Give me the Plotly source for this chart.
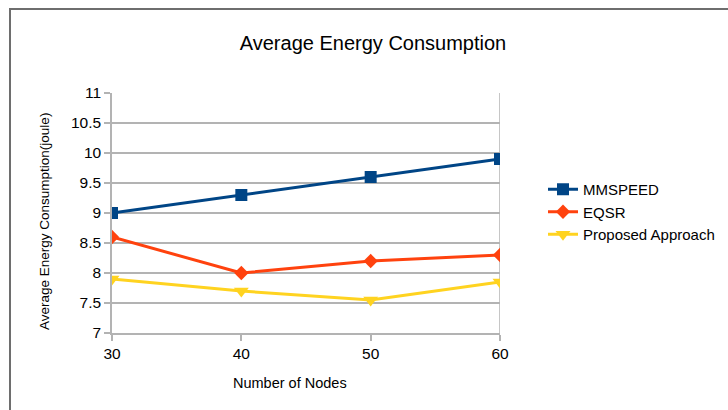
import plotly.graph_objects as go

# Number of nodes on the x axis
nodes = [30, 40, 50, 60]

# Average energy consumption (joule) per protocol
mmspeed = [9.0, 9.3, 9.6, 9.9]
eqsr = [8.6, 8.0, 8.2, 8.3]
proposed = [7.9, 7.7, 7.55, 7.85]

y_ticks = [7, 7.5, 8, 8.5, 9, 9.5, 10, 10.5, 11]
y_tick_text = ["7", "7.5", "8", "8.5", "9", "9.5", "10", "10.5", "11"]

FONT = "Liberation Sans, Arial, sans-serif"
GRID = "#b3b3b3"

# plot area in pixels
L, R, T, B = 112, 500, 93, 333
PW, PH = R - L, B - T

series = [
    ("MMSPEED", mmspeed, "#004586", "square", 12),
    ("EQSR", eqsr, "#ff420e", "diamond", 11),
    ("Proposed Approach", proposed, "#ffd320", "triangle-down", 13),
]

fig = go.Figure()
for name, vals, color, symbol, size in series:
    fig.add_trace(go.Scatter(
        x=nodes, y=vals, name=name, mode="lines+markers",
        line=dict(color=color, width=3),
        marker=dict(symbol=symbol, size=size, color=color, line=dict(width=0)),
    ))


def px_x(x):
    return (x - L) / PW


def px_y(y):
    return (B - y) / PH


fig.update_layout(
    width=728, height=410,
    margin=dict(l=L, r=728 - R, t=T, b=410 - B, autoexpand=False),
    paper_bgcolor="white", plot_bgcolor="white",
    font=dict(family=FONT, color="black", size=15.5),
    title=dict(text="Average Energy Consumption", x=373 / 728, xanchor="center",
               y=1 - 43 / 410, yanchor="middle", font=dict(size=20, family=FONT)),
    showlegend=True,
    legend=dict(x=px_x(543), xanchor="left", y=px_y(212), yanchor="middle",
                font=dict(size=15, family=FONT), tracegroupgap=0,
                bgcolor="rgba(0,0,0,0)"),
    xaxis=dict(
        range=[30, 60], tickvals=nodes, ticktext=[str(n) for n in nodes],
        showgrid=False, zeroline=False,
        showline=True, linecolor=GRID, linewidth=1.5,
        ticks="outside", ticklen=6, tickcolor=GRID, tickwidth=1.5,
        tickfont=dict(size=15.5),
    ),
    yaxis=dict(
        range=[7, 11], tickvals=y_ticks, ticktext=y_tick_text,
        showgrid=True, gridcolor=GRID, gridwidth=1.5, zeroline=False,
        showline=True, linecolor=GRID, linewidth=1.5,
        ticks="outside", ticklen=6, tickcolor=GRID, tickwidth=1.5,
        tickfont=dict(size=15.5),
    ),
    annotations=[
        dict(text="Number of Nodes", xref="paper", yref="paper",
             x=px_x(290), y=px_y(383), xanchor="center", yanchor="middle",
             showarrow=False, font=dict(size=14.5, family=FONT)),
        dict(text="Average Energy Consumption(joule)", xref="paper", yref="paper",
             x=px_x(44), y=px_y(222), xanchor="center", yanchor="middle",
             textangle=-90, showarrow=False, font=dict(size=13.5, family=FONT)),
    ],
    shapes=[
        # vertical grid line on the last category
        dict(type="line", xref="x", yref="y", x0=60, x1=60, y0=7, y1=11,
             line=dict(color=GRID, width=1.5), layer="below"),
        # outer frame of the chart
        dict(type="rect", xref="paper", yref="paper",
             x0=px_x(10), x1=2.0, y0=-1.0, y1=px_y(9),
             line=dict(color="#6e6e6e", width=2), layer="below"),
    ],
)

fig.write_html("out.html")
